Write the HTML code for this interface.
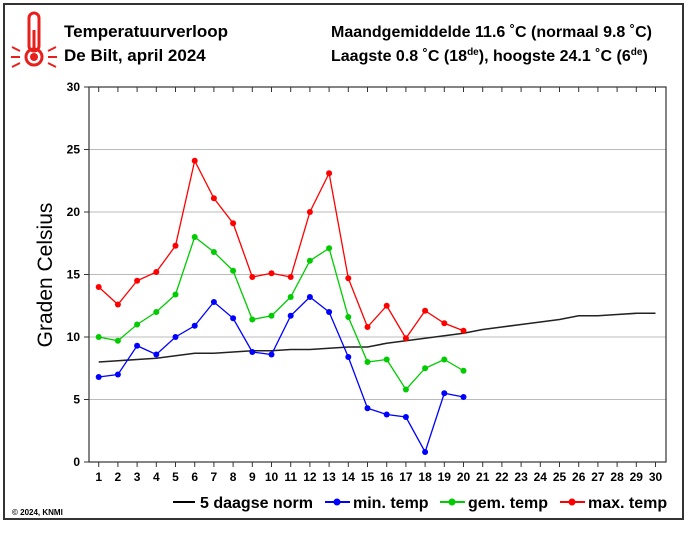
<!DOCTYPE html>
<html><head><meta charset="utf-8"><style>
body{margin:0;background:#fff;font-family:"Liberation Sans",Arial,sans-serif}
svg text{font-family:"Liberation Sans",Arial,sans-serif}
</style></head><body>
<svg id="chart" width="700" height="541" xmlns="http://www.w3.org/2000/svg">
<rect x="4" y="4" width="679" height="515" fill="#fff" stroke="#333" stroke-width="2"/>
<g stroke="#e8201c" fill="none">
 <rect x="29" y="13" width="10" height="38" rx="5" stroke-width="3"/>
 <circle cx="34" cy="57" r="8" stroke-width="3"/>
 <circle cx="34" cy="57" r="4" fill="#e8201c" stroke="none"/>
 <line x1="34" y1="30" x2="34" y2="52" stroke-width="3"/>
 <line x1="11" y1="57" x2="20" y2="57" stroke-width="2"/><line x1="48" y1="57" x2="57" y2="57" stroke-width="2"/>
 <line x1="12" y1="47" x2="20" y2="51" stroke-width="2"/><line x1="48" y1="51" x2="56" y2="47" stroke-width="2"/>
 <line x1="12" y1="67" x2="20" y2="63" stroke-width="2"/><line x1="48" y1="63" x2="56" y2="67" stroke-width="2"/>
</g>
<text x="64" y="37" font-size="17" font-weight="bold">Temperatuurverloop</text>
<text x="64" y="61" font-size="17" font-weight="bold">De Bilt, april 2024</text>
<text x="331" y="37" font-size="16" font-weight="bold">Maandgemiddelde 11.6 ˚C (normaal 9.8 ˚C)</text>
<text x="331" y="61" font-size="16" font-weight="bold">Laagste 0.8 ˚C (18<tspan font-size="10" dy="-6">de</tspan><tspan dy="6">), hoogste 24.1 ˚C (6</tspan><tspan font-size="10" dy="-6">de</tspan><tspan dy="6">)</tspan></text>
<text transform="translate(52,275) rotate(-90)" text-anchor="middle" font-size="21">Graden Celsius</text>
<g id="grid"></g><g id="axes"></g><g id="series"></g>
<text x="12" y="515" font-size="8" font-weight="bold">© 2024, KNMI</text>
<g font-size="16" font-weight="bold">
 <g><line x1="173" y1="502" x2="195" y2="502" stroke="#000" stroke-width="2"/><text x="200" y="508">5 daagse norm</text></g>
 <g><line x1="325" y1="502" x2="350" y2="502" stroke="#00f" stroke-width="2"/><circle cx="337" cy="502" r="3.5" fill="#00f"/><text x="353" y="508">min. temp</text></g>
 <g><line x1="440" y1="502" x2="465" y2="502" stroke="#0c0" stroke-width="2"/><circle cx="452" cy="502" r="3.5" fill="#0c0"/><text x="468" y="508">gem. temp</text></g>
 <g><line x1="560" y1="502" x2="585" y2="502" stroke="#f00" stroke-width="2"/><circle cx="572" cy="502" r="3.5" fill="#f00"/><text x="588" y="508">max. temp</text></g>
</g>
</svg>
<script>
const days=[1,2,3,4,5,6,7,8,9,10,11,12,13,14,15,16,17,18,19,20,21,22,23,24,25,26,27,28,29,30];
const yTicks=[0,5,10,15,20,25,30];
const maxTemp=[14.0,12.6,14.5,15.2,17.3,24.1,21.1,19.1,14.8,15.1,14.8,20.0,23.1,14.7,10.8,12.5,9.9,12.1,11.1,10.5];
const gemTemp=[10.0,9.7,11.0,12.0,13.4,18.0,16.8,15.3,11.4,11.7,13.2,16.1,17.1,11.6,8.0,8.2,5.8,7.5,8.2,7.3];
const minTemp=[6.8,7.0,9.3,8.6,10.0,10.9,12.8,11.5,8.8,8.6,11.7,13.2,12.0,8.4,4.3,3.8,3.6,0.8,5.5,5.2];
const normTemp=[8.0,8.1,8.2,8.3,8.5,8.7,8.7,8.8,8.9,8.9,9.0,9.0,9.1,9.2,9.2,9.5,9.7,9.9,10.1,10.3,10.6,10.8,11.0,11.2,11.4,11.7,11.7,11.8,11.9,11.9];
const NS='http://www.w3.org/2000/svg';
const L=89,R=666,T=87,B=462;
const x=d=>98.7+(d-1)*19.2;
const y=v=>B-(v/30)*(B-T);
function mk(tag,attrs,parent){const e=document.createElementNS(NS,tag);for(const k in attrs)e.setAttribute(k,attrs[k]);parent.appendChild(e);return e;}
const grid=document.getElementById('grid'),axes=document.getElementById('axes'),ser=document.getElementById('series');
yTicks.forEach(t=>{
 if(t>0&&t<30){const g=mk('line',{x1:L,x2:R,y1:y(t),y2:y(t),stroke:'#bbb','stroke-width':1},grid);
 
 }
 const tk=mk('line',{x1:L-5,x2:L,y1:y(t),y2:y(t),stroke:'#333'},axes);
 
 
 const tx=mk('text',{x:L-9,y:y(t)+4,'text-anchor':'end','font-size':12,'font-weight':'bold'},axes);tx.textContent=t;
 
 
});
const fr=mk('rect',{x:L,y:T,width:R-L,height:B-T,fill:'none',stroke:'#333','stroke-width':1.2},axes);


days.forEach(d=>{
 [[B,B+5],[T,T+5]].forEach(([a,b])=>{const t=mk('line',{x1:x(d),x2:x(d),y1:a,y2:b,stroke:'#333'},axes);
 
 });
 const tx=mk('text',{x:x(d),y:481,'text-anchor':'middle','font-size':12,'font-weight':'bold'},axes);tx.textContent=d;
 
 
});
function series(vals,color,name,dots){
 const p=mk('polyline',{points:vals.map((v,i)=>x(days[i])+','+y(v)).join(' '),fill:'none',stroke:color,'stroke-width':dots?1.3:1.6},ser);
 
 
 if(dots)vals.forEach((v,i)=>{const c=mk('circle',{cx:x(days[i]),cy:y(v),r:3,fill:color},ser);
 
 });
}
series(normTemp,'#222','norm-temp',false);
series(minTemp,'#00f','min-temp',true);
series(gemTemp,'#0c0','gem-temp',true);
series(maxTemp,'#f00','max-temp',true);
</script>
</body></html>
